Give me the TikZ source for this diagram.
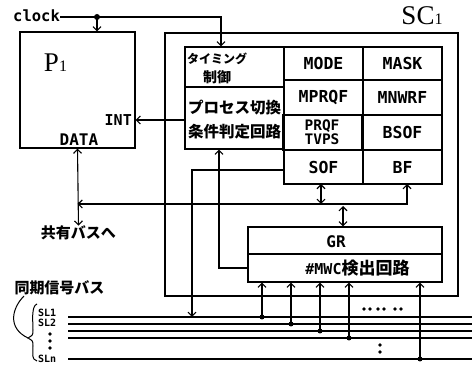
\documentclass[tikz,border=0pt]{standalone}
\usepackage{fontspec}
\setmainfont{Liberation Serif}
\newfontfamily\mono{DejaVu Sans Mono}
\newfontfamily\jp{Noto Sans CJK JP}
\usetikzlibrary{arrows.meta}
\begin{document}
\begin{tikzpicture}[x=1pt,y=-1pt,
  box/.style={draw,line width=1.2pt,inner sep=0pt},
  conn/.style={line width=1.1pt},
  busl/.style={line width=1.2pt},
  >={Straight Barb[length=4pt,width=8pt]},
  lt/.style={font=\mono\bfseries\fontsize{16}{16}\selectfont,inner sep=0pt},
  reg/.style={box,minimum width=79pt,font=\mono\bfseries\fontsize{16.5}{16.5}\selectfont},
  jt/.style={font=\jp\bfseries\fontsize{15.5}{15.5}\selectfont,inner sep=0pt},
  dot/.style={circle,fill,inner sep=0pt,minimum size=5pt},
  sdot/.style={circle,fill,inner sep=0pt,minimum size=3.6pt},
  sll/.style={font=\mono\bfseries\fontsize{10}{10}\selectfont,inner sep=0pt,anchor=west}]
\useasboundingbox (0,0) rectangle (472,366);
% boxes
\node[box,minimum width=115pt,minimum height=116pt] (p1) at (77.5,90) {};
\node[box,minimum width=293pt,minimum height=263pt] (sc1) at (311.5,164.5) {};
\node[box,minimum width=99pt,minimum height=40pt] (tim) at (234.5,67) {};
\node[box,minimum width=99pt,minimum height=62pt] (proc) at (234.5,118) {};
\node[reg,minimum height=33pt] (mode) at (323.5,63.5) {MODE};
\node[reg,minimum height=33pt] (mask) at (402.5,63.5) {MASK};
\node[reg,minimum height=35pt] (mprqf) at (323.5,97.5) {MPRQF};
\node[reg,minimum height=35pt] (mnwrf) at (402.5,97.5) {MNWRF};
\node[reg,minimum height=35pt,align=center,font=\mono\bfseries\fontsize{14.5}{12}\selectfont] (prqf) at (322,132.5) {PRQF\\TVPS};
\node[reg,minimum height=35pt] (bsof) at (402.5,132.5) {BSOF};
\node[reg,minimum height=34pt] (sof) at (323.5,167) {SOF};
\node[reg,minimum height=34pt] (bf) at (402.5,167) {BF};
\node[box,minimum width=194pt,minimum height=27pt] (gr) at (345,240.5) {};
\node[box,minimum width=194pt,minimum height=28pt] (mwc) at (345,268) {};
% labels
\node[inner sep=0pt,font=\fontsize{27}{27}\selectfont] (p1l) at (55.5,62.5) {P{\fontsize{16}{16}\selectfont 1}};
\node[inner sep=0pt,font=\fontsize{27}{27}\selectfont] (sc1l) at (422,16) {SC{\fontsize{16}{16}\selectfont 1}};
\node[lt,anchor=base west,font=\mono\bfseries\fontsize{15.5}{15.5}\selectfont] (clock) at (13,22) {clock};
\node[lt,anchor=base east,font=\mono\bfseries\fontsize{15}{15}\selectfont] (int) at (132,126) {INT};
\node[lt,anchor=base] (data) at (79,146) {DATA};
\node[jt,anchor=west,font=\jp\bfseries\fontsize{12}{12}\selectfont] (timl1) at (187,59) {タイミング};
\node[jt,font=\jp\bfseries\fontsize{14}{14}\selectfont] (timl2) at (217,77) {制御};
\node[jt] (procl1) at (234.5,107.5) {プロセス切換};
\node[jt] (procl2) at (234.5,131.5) {条件判定回路};
\node[lt] (grl) at (336,242) {GR};
\node[inner sep=0pt] (mwcl) at (357.5,268) {{\mono\bfseries\fontsize{15}{15}\selectfont\#MWC}{\jp\bfseries\fontsize{17}{17}\selectfont 検出回路}};
\node[jt,font=\jp\bfseries\fontsize{15}{15}\selectfont] (busto) at (78.5,233) {共有バスへ};
\node[jt,font=\jp\bfseries\fontsize{15}{15}\selectfont] (syncl) at (59.5,288) {同期信号バス};
\node[sll] (sl1l) at (38,313) {SL1};
\node[sll] (sl2l) at (38,322.5) {SL2};
\node[sll] (slnl) at (38,359) {SLn};
\node[sdot] (vd1) at (50,334) {};
\node[sdot] (vd2) at (50,341) {};
\node[sdot] (vd3) at (50,348) {};
% brace and pointer curve
\draw[line width=1pt] (24,296) .. controls (12,308) and (7,328) .. (28,338);
\draw[line width=1pt] (37,304) .. controls (31,306) and (33,322) .. (33,330)
   .. controls (33,335) .. (28,338) .. controls (33,341) .. (33,346)
   .. controls (33,354) and (31,359) .. (37,361);
% sync bus lines
\coordinate (s1a) at (68,317); \coordinate (s1b) at (472,317);
\coordinate (s2a) at (68,324); \coordinate (s2b) at (472,324);
\coordinate (s3a) at (68,331); \coordinate (s3b) at (472,331);
\coordinate (s4a) at (68,338); \coordinate (s4b) at (472,338);
\coordinate (sna) at (68,359); \coordinate (snb) at (472,359);
\draw[busl] (s1a) -- (s1b);
\draw[busl] (s2a) -- (s2b);
\draw[busl] (s3a) -- (s3b);
\draw[busl] (s4a) -- (s4b);
\draw[busl] (sna) -- (snb);
% taps to #MWC
\node[dot] (t1) at (262,317) {};
\node[dot] (t2) at (291,324) {};
\node[dot] (t3) at (320,331) {};
\node[dot] (t4) at (349,338) {};
\node[dot] (t5) at (420,359) {};
\foreach \t in {t1,t2,t3,t4,t5} \draw[conn,->] (\t.center) -- (\t |- mwc.south);
% dots
\foreach \x [count=\i] in {364,370,378,384,395,401} \node[sdot] (hd\i) at (\x,309) {};
\node[sdot] (vv1) at (380,345) {};
\node[sdot] (vv2) at (380,352) {};
% clock
\coordinate (clkc) at (221,17);
\draw[conn,->] (clock.east |- clkc) -- (clkc) -- (clkc |- tim.north);
\node[dot,minimum size=6pt] (clkdot) at (97,17) {};
\draw[conn,->] (clkdot.center) -- (clkdot |- p1.north);
% INT
\draw[conn,->] ([yshift=-2pt]proc.west) -- ([yshift=-2pt]proc.west -| p1.east);
% DATA
\coordinate (dj) at (78,204);
\coordinate (bfin) at (407,184);
\draw[conn,<->] (p1.south) -- (busto.north);
\draw[conn,<->] (p1.south |- dj) -- (bfin |- dj) -- (bfin);
\coordinate (sofin) at (321,184);
\draw[conn,<->] (sofin) -- (sofin |- dj);
\coordinate (grin) at (343,206);
\draw[conn,<->] (grin) -- (grin |- gr.north);
% SOF to SL1
\coordinate (sofx) at (192,170);
\draw[conn,->] (sof.west |- sofx) -- (sofx) -- (sofx |- s1a);
% #MWC to process box
\coordinate (mwcx) at (219,268);
\draw[conn,->] (mwc.west) -- (mwcx) -- (mwcx |- proc.south);
\end{tikzpicture}
\end{document}
